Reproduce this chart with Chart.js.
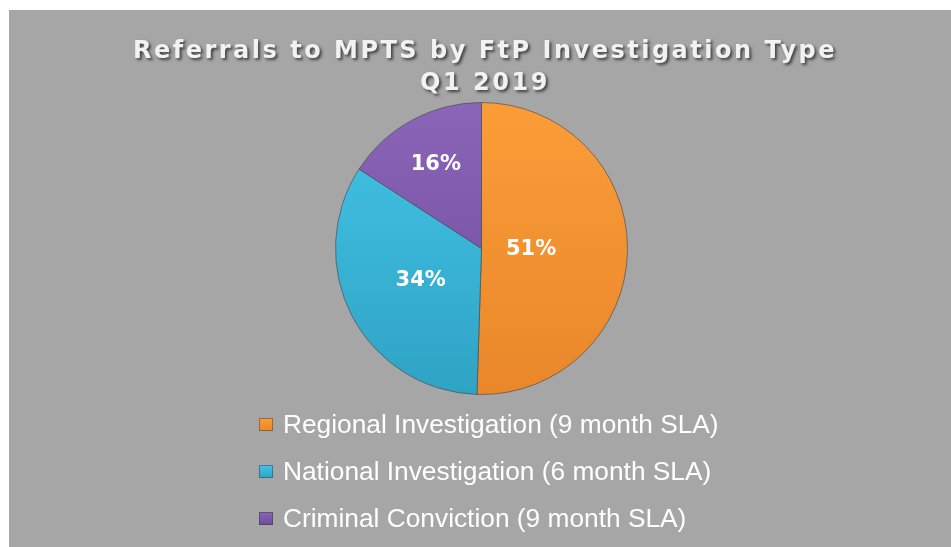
<!DOCTYPE html>
<html>
<head>
<meta charset="utf-8">
<script src="https://cdn.jsdelivr.net/npm/chart.js@4"></script>
<style>
  html, body { margin: 0; padding: 0; background: #fff; }
  #wrap { width: 951px; height: 547px; position: relative; }
</style>
</head>
<body>
<div id="wrap"><canvas id="chart"></canvas></div>
<script>
// data
const categories = [
    "Regional Investigation (9 month SLA)",
    "National Investigation (6 month SLA)",
    "Criminal Conviction (9 month SLA)"
];
const shares = [51, 34, 16];
const titleLines = ["Referrals to MPTS by FtP Investigation Type", "Q1 2019"];

// colours: light (top) and dark (bottom) shade of each slice
const lightColors = ["#fa9d38", "#43c5e8", "#8b65b8"];
const darkColors = ["#e9872a", "#2fa3c4", "#6f4b9b"];

// label distance from centre, as fraction of radius (Excel "best fit" look)
const labelRadius = [0.34, 0.47, 0.655];

function sliceFill(ctx) {
    const chart = ctx.chart;
    const area = chart.chartArea;
    const i = ctx.dataIndex;
    if (!area) return lightColors[i];
    const g = chart.ctx.createLinearGradient(0, area.top, 0, area.bottom);
    g.addColorStop(0, lightColors[i]);
    g.addColorStop(1, darkColors[i]);
    return g;
}

const backdrop = {
    id: 'backdrop',
    beforeDraw(chart) {
        const c = chart.ctx;
        c.save();
        c.fillStyle = '#a6a6a6';
        c.fillRect(9, 10, chart.width - 9, chart.height - 10);
        c.restore();
    }
};

const titleText = {
    id: 'titleText',
    afterDraw(chart) {
        const c = chart.ctx;
        c.save();
        c.font = 'bold 24px "DejaVu Sans"';
        c.letterSpacing = '2.5px';
        c.textAlign = 'center';
        c.textBaseline = 'alphabetic';
        c.fillStyle = '#f2f2f2';
        c.shadowColor = 'rgba(40,40,40,0.8)';
        c.shadowOffsetX = 2;
        c.shadowOffsetY = 2;
        c.shadowBlur = 3;
        c.fillText(titleLines[0], 485, 58);
        c.fillText(titleLines[1], 485, 90);
        c.restore();
    }
};

const sliceLabels = {
    id: 'sliceLabels',
    afterDatasetsDraw(chart) {
        const c = chart.ctx;
        const meta = chart.getDatasetMeta(0);
        c.save();
        c.font = 'bold 21px "DejaVu Sans"';
        c.fillStyle = '#ffffff';
        c.textAlign = 'center';
        c.textBaseline = 'middle';
        meta.data.forEach((arc, i) => {
            const p = arc.getProps(['x', 'y', 'startAngle', 'endAngle', 'outerRadius'], true);
            const mid = (p.startAngle + p.endAngle) / 2;
            const r = p.outerRadius * labelRadius[i];
            c.fillText(shares[i] + '%', p.x + Math.cos(mid) * r, p.y + Math.sin(mid) * r);
        });
        c.restore();
    }
};

const sideLegend = {
    id: 'sideLegend',
    afterDraw(chart) {
        const c = chart.ctx;
        c.save();
        c.font = '26.3px "Liberation Sans"';
        c.textBaseline = 'alphabetic';
        categories.forEach((name, i) => {
            const base = 433 + i * 47;
            const g = c.createLinearGradient(0, base - 15, 0, base - 2);
            g.addColorStop(0, lightColors[i]);
            g.addColorStop(1, darkColors[i]);
            c.fillStyle = g;
            c.fillRect(259, base - 15, 14, 13);
            c.strokeStyle = 'rgba(60,60,60,0.5)';
            c.lineWidth = 1;
            c.strokeRect(259.5, base - 14.5, 13, 12);
            c.fillStyle = '#ffffff';
            c.fillText(name, 283, base);
        });
        c.restore();
    }
};

new Chart('chart', {
    type: 'pie',
    data: {
        labels: categories,
        datasets: [{
            data: shares,
            backgroundColor: sliceFill,
            borderColor: 'rgba(80,80,80,0.7)',
            borderWidth: 1
        }]
    },
    options: {
        responsive: true,
        maintainAspectRatio: false,
        animation: false,
        layout: {
            padding: { top: 102, bottom: 152, left: 12, right: 0 }
        },
        plugins: {
            legend: { display: false },
            title: { display: false },
            tooltip: { enabled: false }
        }
    },
    plugins: [backdrop, sliceLabels, titleText, sideLegend]
});
</script>
</body>
</html>
